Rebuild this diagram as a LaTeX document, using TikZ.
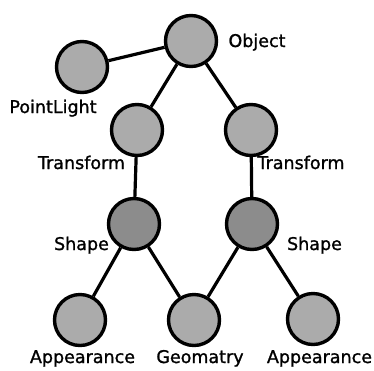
\documentclass[tikz,border=0pt]{standalone}
\usepackage{fontspec}
\setmainfont{DejaVu Sans}[BoldFont=DejaVu Sans,BoldFeatures={FakeBold=1.2}]
\begin{document}
\begin{tikzpicture}[x=1pt,y=-1pt,
  ball/.style={circle,draw=black,line width=3.4pt,minimum size=51pt,inner sep=0pt,fill=black!33},
  dball/.style={ball,fill=black!45},
  lbl/.style={font=\fontsize{17.5}{20}\selectfont\bfseries,anchor=base,inner sep=0pt},
  edge/.style={line width=3.2pt}]
\useasboundingbox (0,0) rectangle (374,370);
\node[ball] (obj) at (191,41) {};
\node[ball] (pl) at (82,67) {};
\node[ball] (tl) at (137,130) {};
\node[ball] (tr) at (251,130) {};
\node[dball] (sl) at (134,224) {};
\node[dball] (sr) at (252,224) {};
\node[ball] (al) at (80,320) {};
\node[ball] (geo) at (194,320) {};
\node[ball] (ar) at (313,319) {};
\draw[edge] (obj) -- (pl);
\draw[edge] (obj) -- (tl);
\draw[edge] (obj) -- (tr);
\draw[edge] (tl) -- (sl);
\draw[edge] (tr) -- (sr);
\draw[edge] (sl) -- (al);
\draw[edge] (sl) -- (geo);
\draw[edge] (sr) -- (geo);
\draw[edge] (sr) -- (ar);
\node[lbl] (lobj) at (257,47) {Object};
\node[lbl] (lpl) at (53,113) {PointLight};
\node[lbl] (ltl) at (81.5,169) {Transform};
\node[lbl] (ltr) at (301,169) {Transform};
\node[lbl] (lsl) at (81.5,250) {Shape};
\node[lbl] (lsr) at (314.5,250) {Shape};
\node[lbl] (lal) at (82.5,363) {Appearance};
\node[lbl] (lgeo) at (200,363) {Geomatry};
\node[lbl] (lar) at (319.5,363) {Appearance};
\end{tikzpicture}
\end{document}
